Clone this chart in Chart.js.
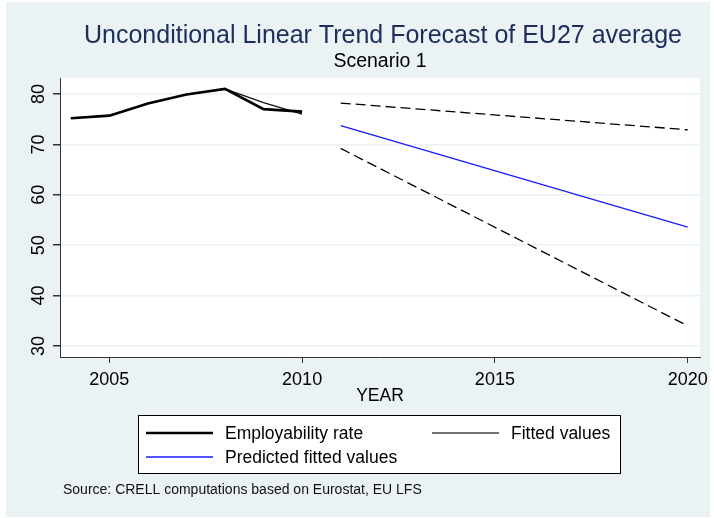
<!DOCTYPE html>
<html>
<head>
<meta charset="utf-8">
<script src="https://cdn.jsdelivr.net/npm/chart.js@4/dist/chart.umd.min.js"></script>
<style>
  html, body { margin: 0; padding: 0; background: #fff; }
  #wrap { width: 714px; height: 518px; }
</style>
</head>
<body>
<div id="wrap"><canvas id="chart" width="714" height="518"></canvas></div>
<script>
// observed years
const years = [2004, 2005, 2006, 2007, 2008, 2009, 2010];
const employability = [75.2, 75.7, 78.1, 79.9, 81.0, 77.0, 76.5];
const fitted = [75.2, 75.7, 78.1, 79.9, 81.0, 78.3, 76.0];

// forecast period
const forecastYears = [2011, 2020];
const predicted = [73.7, 53.6];
const upperBand = [78.2, 72.9];
const lowerBand = [69.2, 34.0];

const xTicks = [2005, 2010, 2015, 2020];
const yTicks = [30, 40, 50, 60, 70, 80];

const titleText = 'Unconditional Linear Trend Forecast of EU27 average';
const subtitleText = 'Scenario 1';
const sourceText = 'Source: CRELL computations based on Eurostat, EU LFS';

const FONT = '"Liberation Sans", Arial, sans-serif';
const BG = '#eaf2f3';

const pts = (xs, ys) => xs.map((x, i) => ({ x: x, y: ys[i] }));

// stata-ish background: light blue outer, white plot region
const background = {
  id: 'background',
  beforeDraw(chart) {
    const { ctx, chartArea: a } = chart;
    ctx.save();
    ctx.fillStyle = '#fff';
    ctx.fillRect(0, 0, chart.width, chart.height);
    ctx.fillStyle = BG;
    ctx.fillRect(6, 2, 704, 515);
    ctx.fillStyle = '#fff';
    ctx.fillRect(a.left, a.top, a.right - a.left, a.bottom - a.top);
    ctx.restore();
  }
};

// titles, legend box and note
const extras = {
  id: 'extras',
  afterDraw(chart) {
    const { ctx, chartArea: a } = chart;
    const cx = (a.left + a.right) / 2;
    ctx.save();
    ctx.textAlign = 'center';
    ctx.textBaseline = 'middle';
    ctx.fillStyle = '#1e2d5c';
    ctx.font = '25px ' + FONT;
    ctx.fillText(titleText, cx + 3, 36);
    ctx.fillStyle = '#000';
    ctx.font = '19.5px ' + FONT;
    ctx.fillText(subtitleText, cx, 62);

    // legend
    const box = { x: 138.5, y: 415.5, w: 482, h: 58 };
    ctx.fillStyle = '#fff';
    ctx.fillRect(box.x, box.y, box.w, box.h);
    ctx.strokeStyle = '#000';
    ctx.lineWidth = 1;
    ctx.strokeRect(box.x, box.y, box.w, box.h);

    const slots = [
      { x: 146, y: 433 },
      { x: 432, y: 433 },
      { x: 146, y: 457 }
    ];
    ctx.textAlign = 'left';
    ctx.font = '17.5px ' + FONT;
    chart.data.datasets.slice(0, 3).forEach((ds, i) => {
      const s = slots[i];
      ctx.beginPath();
      ctx.strokeStyle = i === 1 ? '#444' : ds.borderColor;
      ctx.lineWidth = ds.borderWidth;
      ctx.moveTo(s.x, s.y);
      ctx.lineTo(s.x + 67, s.y);
      ctx.stroke();
      ctx.fillStyle = '#000';
      ctx.fillText(ds.label, s.x + 79, s.y + 1);
    });

    ctx.font = '14px ' + FONT;
    ctx.fillStyle = '#111';
    ctx.fillText(sourceText, 63, 490);
    ctx.restore();
  }
};

new Chart(document.getElementById('chart'), {
  type: 'line',
  data: {
    datasets: [
      {
        label: 'Employability rate',
        data: pts(years, employability),
        borderColor: '#000',
        borderWidth: 2.6,
        pointRadius: 0
      },
      {
        label: 'Fitted values',
        data: pts(years, fitted),
        borderColor: '#111',
        borderWidth: 1.3,
        pointRadius: 0
      },
      {
        label: 'Predicted fitted values',
        data: pts(forecastYears, predicted),
        borderColor: '#1a1aff',
        borderWidth: 1.3,
        pointRadius: 0
      },
      {
        label: 'upper',
        data: pts(forecastYears, upperBand),
        borderColor: '#000',
        borderWidth: 1.3,
        borderDash: [10, 5],
        pointRadius: 0
      },
      {
        label: 'lower',
        data: pts(forecastYears, lowerBand),
        borderColor: '#000',
        borderWidth: 1.3,
        borderDash: [10, 5],
        pointRadius: 0
      }
    ]
  },
  options: {
    responsive: false,
    animation: false,
    layout: { padding: { top: 78, left: 6, right: 14, bottom: 111 } },
    plugins: {
      legend: { display: false },
      tooltip: { enabled: false }
    },
    scales: {
      x: {
        type: 'linear',
        min: 2003.72,
        max: 2020.32,
        afterBuildTicks: s => { s.ticks = xTicks.map(v => ({ value: v })); },
        afterFit: s => { s.height = 50; },
        grid: { drawOnChartArea: false, tickLength: 6, tickColor: '#333' },
        border: { color: '#333', width: 1 },
        ticks: {
          color: '#000',
          font: { family: FONT, size: 18 },
          padding: 6,
          maxRotation: 0,
          callback: v => String(v)
        },
        title: {
          display: true,
          text: 'YEAR',
          color: '#000',
          font: { family: FONT, size: 17.5 },
          padding: 0
        }
      },
      y: {
        min: 27.82,
        max: 83.17,
        afterBuildTicks: s => { s.ticks = yTicks.map(v => ({ value: v })); },
        afterFit: s => { s.width = 54; },
        grid: { color: BG, lineWidth: 1.5, tickLength: 7, tickColor: '#333' },
        border: { color: '#333', width: 1 },
        ticks: {
          color: '#000',
          font: { family: FONT, size: 18 },
          padding: 4,
          minRotation: 90,
          maxRotation: 90,
          crossAlign: 'center'
        }
      }
    }
  },
  plugins: [background, extras]
});
</script>
</body>
</html>
